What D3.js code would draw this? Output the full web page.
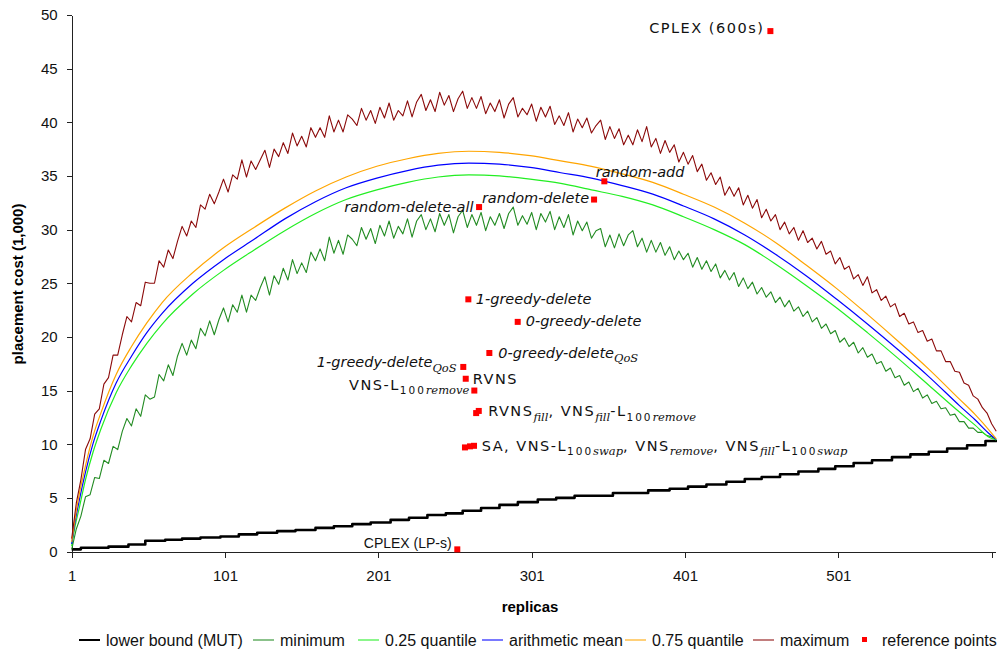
<!DOCTYPE html>
<html>
<head>
<meta charset="utf-8">
<script src="https://cdn.jsdelivr.net/npm/d3@7"></script>
<style>
body { margin: 0; background: #fff; }
svg { display: block; }
.axis text { font-family: "Liberation Sans", Arial, sans-serif; font-size: 15px; fill: #111; }
.axis path, .axis line { stroke: #222; shape-rendering: crispEdges; }
</style>
</head>
<body>
<svg id="chart"></svg>
<script>
// smooth series (read at these replica counts)
var smoothX = [1,3,6,10,15,20,30,40,50,60,80,100,120,140,160,180,200,220,240,260,280,300,320,340,360,380,400,420,440,460,480,500,520,540,560,580,590,600,604];
var meanVals = [0.7,2.6,4.8,7.4,10.1,12.2,15.7,18.2,20.4,22.2,25.0,27.2,29.1,31.0,32.6,33.9,34.8,35.5,36.0,36.2,36.1,35.8,35.3,34.8,34.1,33.3,32.2,31.0,29.5,27.7,25.7,23.5,21.2,18.8,16.3,13.6,12.3,10.9,10.45];
var q75Vals = [0.9,2.9,5.4,8.0,10.8,12.9,16.5,19.1,21.3,23.2,26.0,28.3,30.2,32.0,33.6,34.9,35.9,36.6,37.1,37.3,37.2,36.9,36.4,35.9,35.2,34.4,33.3,32.1,30.6,28.8,26.7,24.5,22.1,19.6,17.0,14.2,12.8,11.2,10.5];
var q25Vals = [0.5,2.2,4.1,6.7,9.3,11.4,14.8,17.3,19.4,21.2,24.0,26.2,28.1,29.9,31.5,32.8,33.7,34.4,34.9,35.1,35.0,34.7,34.3,33.7,33.1,32.3,31.2,30.0,28.6,26.8,24.8,22.7,20.4,18.0,15.5,13.0,11.8,10.6,10.4];

// noisy series, read every 3 replicas (1, 4, 7, ... 601) plus the last one
var noisyX = d3.range(1, 602, 3).concat([604]);
var maxVals = [
 1.2,4.5,6.7,9.5,10.5,12.8,13.3,15.6,16.2,18.3,
 18.3,20.2,21.9,21.4,23.2,22.9,25.1,25.0,25.0,27.1,
 26.5,28.1,27.3,28.9,30.3,29.4,30.8,30.2,32.3,31.9,
 33.3,32.4,33.5,34.7,33.5,35.1,34.7,36.5,34.9,36.4,
 35.6,36.5,37.4,35.8,37.5,36.8,38.1,37.1,39.0,37.8,
 38.7,37.7,39.5,38.6,39.5,38.6,40.6,39.1,40.2,39.1,
 40.7,40.3,39.7,41.3,40.2,41.1,39.9,41.4,40.4,41.8,
 40.2,41.1,40.6,42.0,40.5,41.9,42.6,41.1,42.1,41.0,
 42.8,41.6,42.5,41.0,42.2,42.9,41.3,42.3,41.3,42.4,
 40.8,41.8,41.0,42.1,40.4,41.7,42.3,40.5,41.3,40.7,
 41.7,40.1,41.4,40.5,41.5,39.8,40.6,39.7,40.9,39.1,
 40.3,39.5,40.4,39.0,39.7,40.2,38.4,39.6,38.5,39.4,
 37.9,38.8,37.9,39.3,38.2,39.6,37.7,38.5,37.1,38.3,
 37.2,37.9,36.3,37.2,36.1,36.9,35.4,36.1,34.6,35.3,
 34.2,34.9,33.2,34.0,33.1,33.9,32.3,33.2,32.0,32.8,
 31.1,31.9,30.8,31.4,30.0,30.7,29.6,30.2,29.0,29.9,
 28.8,29.2,28.2,28.9,27.7,28.0,26.8,27.4,26.3,26.6,
 25.4,25.8,24.8,25.6,24.1,24.4,23.4,23.8,22.8,23.1,
 21.9,22.2,21.2,21.4,20.4,20.6,19.6,19.8,18.7,18.7,
 17.7,17.7,16.8,16.7,15.7,15.5,14.5,14.2,13.4,12.9,
 11.9,11.2];
var minVals = [
 0.2,2.1,3.3,5.1,5.3,6.9,6.8,8.5,8.2,9.8,
 9.5,11.2,12.4,11.7,13.3,12.6,14.6,14.2,14.4,16.5,
 15.9,17.4,16.4,18.2,19.4,18.3,19.7,18.9,20.8,20.1,
 21.5,20.2,21.6,22.7,21.4,23.0,22.3,23.9,22.3,23.9,
 23.4,24.6,25.6,23.9,25.7,24.9,26.4,25.3,27.2,25.9,
 26.9,26.0,27.9,27.1,28.2,27.1,29.3,27.8,29.0,27.7,
 29.5,29.1,28.5,30.2,29.1,30.1,28.7,30.4,29.4,30.8,
 29.2,30.3,29.6,31.0,29.3,30.8,31.4,30.0,31.0,29.8,
 31.5,30.4,31.4,29.7,31.2,31.8,30.2,31.4,30.4,31.6,
 29.9,31.2,30.4,31.5,30.1,31.5,32.1,30.4,31.3,30.5,
 31.6,30.0,31.5,30.7,31.7,30.0,31.2,30.2,31.4,29.5,
 30.8,29.9,30.7,29.2,29.9,30.1,28.4,29.5,28.3,29.6,
 28.5,29.5,29.9,28.4,29.2,27.9,29.0,27.9,28.8,27.6,
 28.4,27.2,28.0,27.2,27.8,26.5,27.4,26.3,27.1,26.1,
 26.8,25.5,26.2,25.3,26.0,24.7,25.5,24.5,25.1,24.0,
 24.6,23.7,24.2,23.2,23.7,22.8,23.4,22.4,22.8,21.9,
 22.4,21.4,21.8,20.8,21.2,20.3,20.6,19.5,19.9,19.1,
 19.5,18.5,19.0,18.1,18.4,17.5,17.7,16.8,17.1,16.2,
 16.4,15.5,15.8,14.9,15.2,14.3,14.6,13.8,14.0,13.3,
 13.4,12.7,12.8,12.1,12.1,11.5,11.5,11.1,11.1,10.8,
 10.7,10.4];

// lower bound (MUT) staircase: replica where each level starts
var boundX = [1,7,25,38,49,62,73,85,98,110,122,135,147,160,172,184,196,209,221,233,245,256,268,280,292,305,317,329,354,377,391,403,415,428,440,451,463,475,488,499,511,523,536,548,560,572,585,597,604];
var boundVals = [0.2,0.35,0.45,0.65,1.0,1.1,1.2,1.3,1.4,1.6,1.75,1.9,2.0,2.2,2.35,2.55,2.7,2.95,3.15,3.4,3.55,3.8,4.05,4.35,4.6,4.85,5.0,5.2,5.45,5.7,5.85,6.05,6.25,6.5,6.75,6.95,7.2,7.45,7.7,7.95,8.25,8.5,8.8,9.05,9.3,9.6,9.9,10.3,10.4];

// reference points
var refX = [456.7,348.4,341.7,266.7,259.7,291.9,273.4,256.4,258.0,263.6,264.8,266.5,257.5,260.8,263.4,252.5];
var refY = [48.5,34.5,32.8,32.1,23.5,21.4,18.5,17.2,16.1,15.0,12.9,13.1,9.7,9.8,9.85,0.2];
// label pieces: n = upright, i = italic, s = subscript, si = italic math subscript, a = small plain
var refLabels = [
 [["CPLEX (600s)","n"]],
 [["random-add","i"]],
 [["random-delete","i"]],
 [["random-delete-all","i"]],
 [["1-greedy-delete","i"]],
 [["0-greedy-delete","i"]],
 [["0-greedy-delete","i"],["QoS","si"]],
 [["1-greedy-delete","i"],["QoS","si"]],
 [["RVNS","n"]],
 [["VNS-L","n"],["100","s"],["remove","si"]],
 [["RVNS","n"],["fill","si"],[", VNS","n"],["fill","si"],["-L","n"],["100","s"],["remove","si"]],
 [],
 [["SA, VNS-L","n"],["100","s"],["swap","si"],[", VNS","n"],["remove","si"],[", VNS","n"],["fill","si"],["-L","n"],["100","s"],["swap","si"]],
 [],
 [],
 [["CPLEX (LP-s)","a"]]
];

var yTicks = d3.range(0, 51, 5);
var xTicks = [1,101,201,301,401,501,601];
var legendNames = ["lower bound (MUT)","minimum","0.25 quantile","arithmetic mean","0.75 quantile","maximum","reference points"];
var seriesColors = ["#000000","#228b22","#22ee22","#0000ff","#ffa500","#8b0a0a","#ff0000"];

// layout
var labelPos = [
 {a:"end",dx:-6,dy:1.5},{a:"start",dx:-8.6,dy:-4.3},{a:"end",dx:-5,dy:3.5},{a:"end",dx:-5.5,dy:4.7},
 {a:"start",dx:7.4,dy:5},{a:"start",dx:8,dy:4.4},{a:"start",dx:9,dy:4.6},{a:"end",dx:-6.6,dy:0.4},
 {a:"start",dx:7,dy:5.7},{a:"end",dx:-5,dy:-0.7},{a:"start",dx:12,dy:3.4},null,
 {a:"start",dx:16.7,dy:3.4},null,null,{a:"end",dx:-5.6,dy:-1.7}
];
var legendTextX = [106,280,385,509,652,780,882];

var margin = {top: 15, right: 2, bottom: 101.5, left: 71.7}
  , width = 997 - margin.left - margin.right
  , height = 653 - margin.top - margin.bottom;

var svg = d3.select("#chart")
    .attr("width", 997)
    .attr("height", 653);

var g = svg.append("g")
    .attr("transform", "translate(" + margin.left + "," + margin.top + ")");

var xScale = d3.scaleLinear().domain([1, 603.2]).range([0, width]);
var yScale = d3.scaleLinear().domain([0, 50]).range([height, 0]);

g.append("g")
    .attr("class", "axis")
    .attr("transform", "translate(0," + height + ")")
    .call(d3.axisBottom(xScale).tickValues(xTicks).tickSize(6).tickSizeOuter(0).tickPadding(13)
        .tickFormat(function(d){ return d === 601 ? "" : d; }));

g.append("g")
    .attr("class", "axis")
    .call(d3.axisLeft(yScale).tickValues(yTicks).tickSize(5).tickSizeOuter(0).tickPadding(9));

function drawLine(xs, ys, color, w, curve) {
  var pts = ys.map(function(y, i){ return [xs[i], y]; });
  g.append("path")
    .datum(pts)
    .attr("fill", "none")
    .attr("stroke", color)
    .attr("stroke-width", w)
    .attr("stroke-linejoin", "round")
    .attr("d", d3.line()
        .x(function(d){ return xScale(d[0]); })
        .y(function(d){ return yScale(d[1]); })
        .curve(curve));
}

drawLine(boundX, boundVals, seriesColors[0], 2.6, d3.curveStepAfter);
drawLine(noisyX, minVals, seriesColors[1], 1.1, d3.curveLinear);
drawLine(smoothX, q25Vals, seriesColors[2], 1.2, d3.curveMonotoneX);
drawLine(smoothX, meanVals, seriesColors[3], 1.2, d3.curveMonotoneX);
drawLine(smoothX, q75Vals, seriesColors[4], 1.2, d3.curveMonotoneX);
drawLine(noisyX, maxVals, seriesColors[5], 1.1, d3.curveLinear);

// reference points
var refs = refX.map(function(x, i){ return {x: x, y: refY[i], label: refLabels[i], pos: labelPos[i]}; });

g.append("g").selectAll("rect")
  .data(refs)
  .enter()
  .append("rect")
    .attr("x", function(d){ return xScale(d.x) - 3; })
    .attr("y", function(d){ return yScale(d.y) - 3; })
    .attr("width", 6)
    .attr("height", 6)
    .style("fill", "#ff0000");

var pieceStyle = {
  n:  {family: "'DejaVu Sans', sans-serif", size: 14.5, italic: false, spacing: 1.5, sub: false},
  i:  {family: "'DejaVu Sans', sans-serif", size: 14.5, italic: true, spacing: 0, sub: false},
  s:  {family: "'DejaVu Sans', sans-serif", size: 10.5, italic: false, spacing: 2, sub: true},
  si: {family: "'DejaVu Serif', serif", size: 11.5, italic: true, spacing: 0, sub: true},
  a:  {family: "'Liberation Sans', Arial, sans-serif", size: 14, italic: false, spacing: 0, sub: false}
};
var subShift = 4.5;

refs.forEach(function(d){
  if (!d.pos || d.label.length === 0) return;
  var t = g.append("text")
    .attr("x", xScale(d.x) + d.pos.dx)
    .attr("y", yScale(d.y) + d.pos.dy)
    .attr("text-anchor", d.pos.a)
    .style("fill", "#111");
  var inSub = false;
  d.label.forEach(function(p){
    var st = pieceStyle[p[1]];
    var shift = 0;
    if (st.sub && !inSub) shift = subShift;
    if (!st.sub && inSub) shift = -subShift;
    inSub = st.sub;
    t.append("tspan")
      .attr("dy", shift)
      .style("font-family", st.family)
      .style("font-size", st.size + "px")
      .style("font-style", st.italic ? "italic" : "normal")
      .style("letter-spacing", st.spacing + "px")
      .text(p[0]);
  });
});

// axis titles
svg.append("text")
    .attr("transform", "translate(18,284) rotate(-90)")
    .attr("text-anchor", "middle")
    .attr("dy", "0.35em")
    .style("font-family", "'Liberation Sans', Arial, sans-serif")
    .style("font-weight", "bold")
    .style("font-size", "15px")
    .text("placement cost (1,000)");

svg.append("text")
    .attr("x", 530)
    .attr("y", 612)
    .attr("text-anchor", "middle")
    .style("font-family", "'Liberation Sans', Arial, sans-serif")
    .style("font-weight", "bold")
    .style("font-size", "15px")
    .text("replicas");

// legend
var legend = svg.append("g");
legendNames.forEach(function(name, i){
  var tx = legendTextX[i];
  if (i < 6) {
    legend.append("line")
      .attr("x1", tx - 27).attr("x2", tx - 6)
      .attr("y1", 640).attr("y2", 640)
      .attr("stroke", seriesColors[i])
      .attr("stroke-width", i === 0 ? 2 : 1.5)
      .attr("stroke-opacity", i === 0 ? 1 : 0.7);
  } else {
    legend.append("rect")
      .attr("x", tx - 20).attr("y", 637)
      .attr("width", 5).attr("height", 5)
      .style("fill", seriesColors[i]);
  }
  legend.append("text")
    .attr("x", tx)
    .attr("y", 645.5)
    .style("font-family", "'Liberation Sans', Arial, sans-serif")
    .style("font-size", "16px")
    .style("fill", "#111")
    .text(name);
});
</script>
</body>
</html>
